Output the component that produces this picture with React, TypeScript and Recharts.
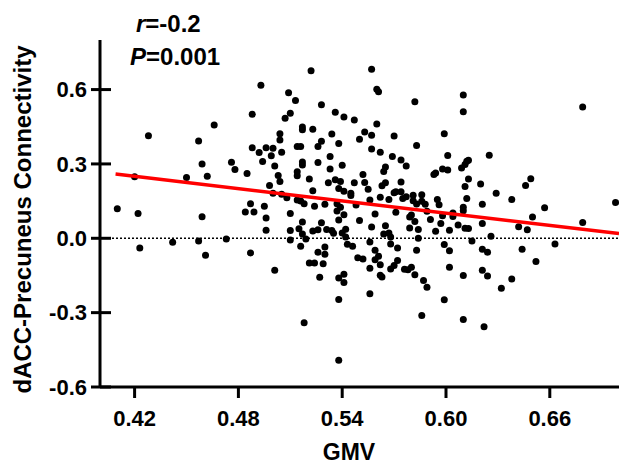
import React from "react";
import {
  ScatterChart,
  Scatter,
  XAxis,
  YAxis,
  ReferenceLine,
  Label,
} from "recharts";

// GMV (x) and dACC-Precuneus connectivity (y)
const gmv = [
  0.410, 0.420, 0.422, 0.423, 0.428, 0.442, 0.450, 0.457, 0.459, 0.462,
  0.459, 0.457, 0.461, 0.466, 0.473, 0.476, 0.478, 0.485, 0.484, 0.487,
  0.487, 0.488, 0.488, 0.489, 0.493, 0.492, 0.494, 0.495, 0.496, 0.496,
  0.496, 0.498, 0.499, 0.500, 0.500, 0.501, 0.501, 0.503, 0.504, 0.504,
  0.504, 0.505, 0.505, 0.507, 0.508, 0.509, 0.510, 0.510, 0.510, 0.510,
  0.513, 0.514, 0.514, 0.514, 0.514, 0.515, 0.516, 0.517, 0.517, 0.517,
  0.517, 0.516, 0.517, 0.516, 0.517, 0.518, 0.518, 0.519, 0.521, 0.521,
  0.522, 0.523, 0.523, 0.523, 0.524, 0.524, 0.526, 0.526, 0.526, 0.527,
  0.526, 0.528, 0.528, 0.528, 0.529, 0.530, 0.530, 0.530, 0.531, 0.532,
  0.533, 0.533, 0.534, 0.534, 0.535, 0.536, 0.536, 0.537, 0.537, 0.538,
  0.538, 0.538, 0.538, 0.538, 0.538, 0.539, 0.539, 0.540, 0.540, 0.541,
  0.541, 0.541, 0.541, 0.541, 0.542, 0.542, 0.543, 0.545, 0.545, 0.546,
  0.547, 0.547, 0.548, 0.549, 0.550, 0.550, 0.552, 0.552, 0.553, 0.553,
  0.555, 0.556, 0.556, 0.557, 0.557, 0.556, 0.556, 0.557, 0.557, 0.559,
  0.559, 0.559, 0.560, 0.560, 0.561, 0.562, 0.561, 0.562, 0.562, 0.562,
  0.563, 0.563, 0.564, 0.564, 0.565, 0.565, 0.565, 0.567, 0.567, 0.568,
  0.568, 0.568, 0.569, 0.570, 0.570, 0.570, 0.571, 0.571, 0.572, 0.572,
  0.574, 0.574, 0.574, 0.575, 0.576, 0.577, 0.577, 0.578, 0.579, 0.579,
  0.580, 0.580, 0.581, 0.581, 0.582, 0.582, 0.582, 0.583, 0.583, 0.583,
  0.584, 0.584, 0.586, 0.586, 0.586, 0.587, 0.588, 0.589, 0.589, 0.591,
  0.593, 0.594, 0.594, 0.595, 0.596, 0.597, 0.598, 0.599, 0.598, 0.599,
  0.599, 0.601, 0.601, 0.602, 0.602, 0.602, 0.604, 0.604, 0.607, 0.609,
  0.610, 0.610, 0.610, 0.610, 0.610, 0.610, 0.611, 0.611, 0.611, 0.612,
  0.612, 0.613, 0.613, 0.613, 0.615, 0.620, 0.621, 0.621, 0.621, 0.621,
  0.622, 0.624, 0.624, 0.625, 0.626, 0.629, 0.632, 0.638, 0.638, 0.642,
  0.644, 0.646, 0.647, 0.649, 0.650, 0.652, 0.657, 0.663, 0.679, 0.679,
  0.698,
];

const conn = [
  0.119, 0.248, 0.100, -0.039, 0.414, -0.016, 0.245, 0.393, 0.300, 0.250,
  0.087, -0.011, -0.068, 0.457, -0.003, 0.307, 0.278, 0.261, 0.106, -0.059,
  0.139, 0.500, 0.365, 0.106, 0.617, 0.346, 0.310, 0.129, 0.365, 0.082,
  0.032, 0.213, 0.333, 0.363, 0.182, -0.129, 0.292, 0.253, 0.229, 0.422,
  0.397, 0.347, 0.178, 0.484, 0.164, 0.587, 0.504, 0.031, -0.007, 0.100,
  0.556, 0.370, 0.268, 0.252, 0.154, 0.038, 0.370, 0.449, 0.438, 0.296,
  0.308, 0.150, 0.066, -0.032, 0.017, 0.139, -0.341, -0.003, 0.239, -0.100,
  0.676, 0.029, 0.192, 0.440, 0.129, -0.100, 0.370, -0.056, 0.306, -0.157,
  0.034, 0.539, 0.392, 0.063, -0.103, -0.035, -0.064, 0.137, 0.035, 0.224,
  0.280, 0.330, 0.421, 0.031, 0.020, 0.508, 0.236, 0.139, 0.110, 0.201,
  0.382, -0.247, -0.492, -0.160, 0.074, 0.125, 0.229, 0.295, 0.021, 0.489,
  0.190, -0.145, -0.178, 0.095, 0.005, 0.036, -0.024, 0.182, 0.173, -0.032,
  0.477, 0.224, 0.134, -0.079, 0.072, 0.400, 0.257, -0.084, 0.225, 0.429,
  0.198, 0.154, -0.224, 0.682, 0.416, -0.015, -0.121, 0.360, 0.046, 0.098,
  -0.048, -0.087, 0.601, 0.461, 0.591, -0.107, -0.072, 0.347, 0.166, -0.149,
  0.212, -0.156, 0.269, 0.017, 0.288, 0.051, 0.224, 0.021, 0.156, -0.023,
  0.005, -0.124, 0.330, 0.413, 0.184, -0.110, 0.105, 0.188, -0.039, -0.090,
  0.316, 0.227, 0.188, 0.161, -0.125, 0.292, 0.168, -0.127, 0.042, 0.086,
  0.094, -0.117, 0.174, 0.151, -0.147, 0.551, 0.068, -0.048, 0.374, 0.138,
  0.000, 0.035, 0.149, -0.312, 0.176, -0.170, 0.137, -0.198, 0.109, 0.076,
  0.257, 0.263, 0.028, 0.156, 0.135, 0.060, 0.091, 0.422, 0.280, -0.025,
  -0.248, 0.276, 0.334, -0.117, 0.032, -0.050, 0.102, 0.088, 0.054, 0.284,
  0.125, 0.111, -0.150, -0.328, 0.578, 0.511, 0.298, 0.040, 0.209, 0.161,
  0.311, 0.315, 0.239, 0.039, -0.011, 0.219, 0.137, -0.044, -0.129, 0.060,
  -0.357, -0.152, -0.056, 0.335, 0.008, 0.182, -0.202, -0.164, 0.156, 0.047,
  -0.044, 0.213, 0.034, 0.240, 0.086, -0.094, 0.123, -0.023, 0.530, 0.064,
  0.144,
];

// regression line end points
const fitX = [0.409, 0.7];
const fitY = [0.259, 0.019];

const xTicks = [0.42, 0.48, 0.54, 0.6, 0.66];
const yTicks = [-0.6, -0.3, 0, 0.3, 0.6];

const FONT = "'Liberation Sans', Arial, Helvetica, sans-serif";

const points = gmv.map((x, i) => ({ x, y: conn[i] }));
const fit = fitX.map((x, i) => ({ x, y: fitY[i] }));

// y ticks in the figure cross the axis line
function YTick(props: any) {
  const { x, y, payload } = props;
  return (
    <g>
      <line x1={x + 3} x2={x + 23} y1={y} y2={y} stroke="#000" strokeWidth={3} />
      <text
        x={x - 1}
        y={y}
        dy="0.355em"
        textAnchor="end"
        fontFamily={FONT}
        fontWeight="bold"
        fontSize={22}
        fill="#000"
      >
        {Number(payload.value).toFixed(1)}
      </text>
    </g>
  );
}

export default function App() {
  return (
    <div style={{ position: "absolute", left: 0, top: 0, width: 619, height: 465, background: "#fff" }}>
      <ScatterChart
        width={619}
        height={465}
        margin={{ top: 40, right: 0, bottom: 0, left: 0 }}
      >
        <XAxis
          type="number"
          dataKey="x"
          domain={[0.4, 0.7]}
          ticks={xTicks}
          allowDataOverflow
          height={78}
          tickFormatter={(v: number) => v.toFixed(2)}
          axisLine={{ stroke: "#000", strokeWidth: 3 }}
          tickLine={{ stroke: "#000", strokeWidth: 3 }}
          tickSize={11}
          tickMargin={12}
          tick={{ fill: "#000", fontSize: 22, fontWeight: "bold", fontFamily: FONT }}
        >
          <Label
            content={(p: any) => {
              const vb = p.viewBox;
              return (
                <text
                  x={349}
                  y={vb.y + vb.height - 5}
                  textAnchor="middle"
                  fontFamily={FONT}
                  fontWeight="bold"
                  fontSize={23}
                  fill="#000"
                >
                  GMV
                </text>
              );
            }}
          />
        </XAxis>
        <YAxis
          type="number"
          dataKey="y"
          domain={[-0.6, 0.8]}
          ticks={yTicks}
          allowDataOverflow
          width={100}
          axisLine={{ stroke: "#000", strokeWidth: 3 }}
          tickLine={false}
          tickSize={9}
          tickMargin={3}
          tick={<YTick />}
        >
          <Label
            content={(p: any) => {
              const vb = p.viewBox;
              const cx = 22;
              const cy = vb.y + vb.height / 2 + 6;
              return (
                <text
                  x={cx}
                  y={cy}
                  dy="0.355em"
                  textAnchor="middle"
                  transform={`rotate(-90, ${cx}, ${cy})`}
                  fontFamily={FONT}
                  fontWeight="bold"
                  fontSize={24}
                  fill="#000"
                >
                  dACC-Precuneus Connectivity
                </text>
              );
            }}
          />
        </YAxis>
        <ReferenceLine y={0} stroke="#000" strokeWidth={1.5} strokeDasharray="2 2" />
        <Scatter
          data={points}
          isAnimationActive={false}
          shape={(p: any) => <circle cx={p.cx} cy={p.cy} r={3.5} fill="#000" />}
        />
        <Scatter
          data={fit}
          isAnimationActive={false}
          line={{ stroke: "#ff0000", strokeWidth: 3.5 }}
          shape={() => <g />}
        />
      </ScatterChart>
      <svg
        width={619}
        height={75}
        style={{ position: "absolute", left: 0, top: 0, pointerEvents: "none" }}
      >
        <text x={136} y={32} fontFamily={FONT} fontWeight="bold" fontSize={24} fill="#000">
          <tspan fontStyle="italic">r</tspan>=-0.2
        </text>
        <text x={130} y={65} fontFamily={FONT} fontWeight="bold" fontSize={24} fill="#000">
          <tspan fontStyle="italic">P</tspan>=0.001
        </text>
      </svg>
    </div>
  );
}
